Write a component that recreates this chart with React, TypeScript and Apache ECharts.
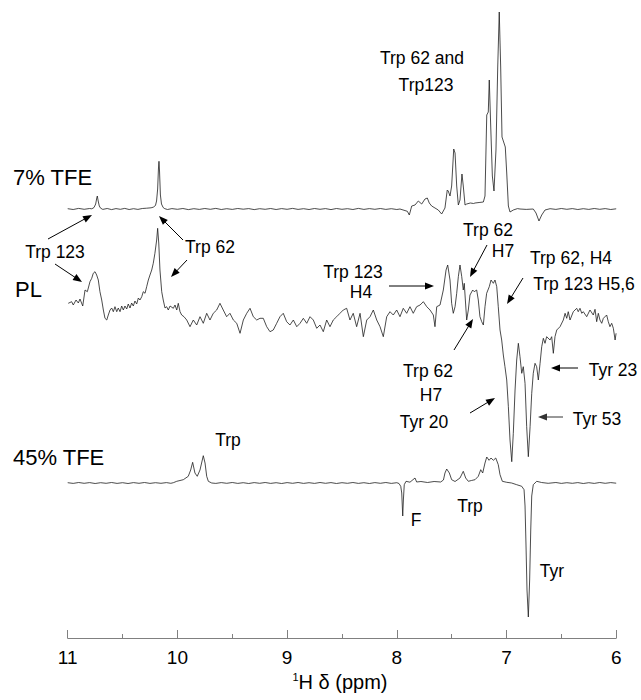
import React, { useEffect, useRef } from 'react';
import * as echarts from 'echarts';

// x axis (ppm) ticks
const xTickValues = [11, 10, 9, 8, 7, 6];

// [ppm, intensity] — 7% TFE trace
const tfe7: number[][] = [
  [11.0, 0.3], [10.95, -0.5], [10.9, 0.6], [10.85, -0.3], [10.8, 0.5], [10.78, 0.2], [10.76, 1.5], [10.745, 5], [10.735, 11], [10.73, 13], [10.722, 8], [10.712, 3], [10.7, 0.8], [10.68, -0.4], [10.64, 0.5], [10.6, -0.6], [10.56, 0.4], [10.52, -0.3], [10.48, 0.6], [10.44, -0.5], [10.4, 0.3], [10.36, -0.4], [10.32, 0.5], [10.28, 0.8], [10.24, 1.2], [10.22, 1.8], [10.2, 3.5], [10.19, 8], [10.18, 20], [10.173, 40], [10.168, 47.7], [10.163, 38], [10.155, 14], [10.145, 5], [10.13, 1.5], [10.115, 0.3], [10.09, -0.5], [10.05, 0.4], [10.0, -0.3], [9.95, 0.5], [9.9, -0.6], [9.85, 0.3], [9.8, -0.4], [9.75, 0.5], [9.7, -0.3], [9.65, 0.6], [9.6, -0.5], [9.55, 0.3], [9.5, -0.4], [9.45, 0.5], [9.4, -0.2], [9.35, 0.4], [9.3, -0.6], [9.25, 0.3], [9.2, -0.3], [9.15, 0.5], [9.1, -0.5], [9.05, 0.4], [9.0, -0.3], [8.95, 0.6], [8.9, -0.4], [8.85, 0.3], [8.8, -0.5], [8.75, 0.5], [8.7, -0.3], [8.65, 0.4], [8.6, -0.6], [8.55, 0.5], [8.5, -0.3], [8.45, 0.3], [8.4, -0.5], [8.35, 0.6], [8.3, -0.4], [8.25, 0.4], [8.2, -0.3], [8.15, 0.5], [8.1, -0.4], [8.05, 0.3], [8.0, -0.5], [7.971, 0], [7.904, -2.3], [7.886, -6], [7.864, 3], [7.834, 4], [7.804, 8], [7.773, 5], [7.743, 10], [7.722, 11], [7.704, 6], [7.682, 3], [7.652, 1], [7.622, -1], [7.591, -5], [7.561, 1], [7.54, 19], [7.531, 18], [7.515, 13], [7.5, 23], [7.481, 60], [7.469, 56], [7.454, 23], [7.439, 4], [7.424, 9], [7.406, 35], [7.394, 23], [7.378, 4], [7.363, 5], [7.33, 6], [7.3, 5.5], [7.287, 6], [7.25, 6.5], [7.211, 7], [7.196, 13], [7.18, 94], [7.166, 97], [7.157, 129], [7.144, 83], [7.129, 33], [7.114, 18], [7.096, 59], [7.08, 142], [7.066, 197], [7.053, 142], [7.041, 72], [7.023, 66], [7.011, 62], [6.998, 36], [6.983, 3], [6.968, -3], [6.938, -1], [6.9, 0.4], [6.877, 0], [6.82, -0.4], [6.756, 0], [6.731, -4], [6.704, -12], [6.679, -6], [6.649, -1], [6.603, 0.3], [6.55, -0.4], [6.5, 0.5], [6.45, -0.3], [6.4, 0.4], [6.35, -0.5], [6.3, 0.3], [6.25, -0.4], [6.2, 0.5], [6.15, -0.3], [6.1, 0.4], [6.05, -0.5], [6.0, 0.2],
];

// [ppm, intensity] — PL trace
const pl: number[][] = [
  [10.995, 16.7], [10.964, 18.3], [10.949, 15], [10.924, 20], [10.903, 17], [10.888, 21], [10.863, 14], [10.842, 30], [10.821, 28.3], [10.797, 38.3], [10.781, 41.7], [10.767, 46.7], [10.751, 48.3], [10.736, 45], [10.721, 40], [10.706, 28.3], [10.69, 20], [10.675, 10], [10.66, 1.7], [10.644, 0], [10.63, 5], [10.614, 10], [10.599, 12], [10.584, 8.3], [10.569, 13.3], [10.553, 8.3], [10.539, 12], [10.523, 8.3], [10.508, 14], [10.493, 10], [10.478, 14], [10.462, 11], [10.448, 16], [10.432, 12], [10.417, 17], [10.402, 14], [10.387, 19], [10.371, 16], [10.356, 22], [10.341, 20], [10.325, 23.3], [10.311, 28.3], [10.295, 26.7], [10.28, 33.3], [10.265, 40], [10.25, 45], [10.234, 50], [10.22, 56.7], [10.205, 66.7], [10.189, 80], [10.18, 91.7], [10.17, 77], [10.159, 50], [10.143, 28.3], [10.129, 20], [10.113, 12], [10.098, 13.3], [10.083, 10], [10.067, 14], [10.037, 11.7], [10.022, 15], [10.006, 10], [9.992, 16.7], [9.976, 8.3], [9.961, 5], [9.94, 3.3], [9.915, 0], [9.885, -6.7], [9.855, 0], [9.824, -5], [9.794, 3.3], [9.764, -3.3], [9.733, 6.7], [9.703, 0], [9.673, 6.7], [9.642, 10], [9.612, 16.7], [9.582, 10], [9.551, 3.3], [9.521, 6.7], [9.49, 0], [9.459, -3.3], [9.429, -13.3], [9.399, 0], [9.368, 6.7], [9.338, 11.7], [9.308, 3.3], [9.277, 0], [9.247, 1.7], [9.217, 1.7], [9.186, -6.7], [9.156, -11.7], [9.126, -10], [9.095, -3.3], [9.065, 3.3], [9.035, 6.7], [9.004, -1.7], [8.974, -5], [8.943, 0], [8.912, -6.7], [8.882, -3.3], [8.852, 1.7], [8.821, -3.3], [8.791, 3.3], [8.761, 0], [8.73, -8.3], [8.7, -5], [8.67, -11.7], [8.639, 0], [8.609, -6.7], [8.579, 0], [8.548, 3.3], [8.518, 6.7], [8.488, 10], [8.457, 11.7], [8.427, 0], [8.397, 6.7], [8.366, -6.7], [8.335, 6.7], [8.305, -16.7], [8.274, 0], [8.244, 3.3], [8.214, 10], [8.183, 0], [8.153, -6.7], [8.123, -16.7], [8.092, 3.3], [8.062, 8.3], [8.032, 5], [8.001, 10], [7.971, 3.3], [7.941, 11.7], [7.91, 6.7], [7.88, 13.3], [7.85, 6.7], [7.819, 13.3], [7.788, 15], [7.758, 18.3], [7.727, 13.3], [7.697, 10], [7.667, 5], [7.652, -6.7], [7.636, 13.3], [7.606, 15], [7.576, 30], [7.551, 50], [7.536, 55], [7.515, 40], [7.5, 16.7], [7.485, 6.7], [7.469, 13.3], [7.454, 26.7], [7.439, 43.3], [7.424, 55], [7.408, 43.3], [7.394, 30], [7.385, 36.7], [7.363, 0], [7.348, 10], [7.333, 25], [7.308, 30], [7.294, 28.3], [7.272, 30], [7.257, 20], [7.242, 3.3], [7.226, -1.7], [7.211, -5], [7.196, 13.3], [7.181, 26.7], [7.157, 33.3], [7.141, 40], [7.12, 36.7], [7.105, 40], [7.089, 33.3], [7.075, 13.3], [7.059, -10], [7.044, -20], [7.029, -35], [7.014, -46.7], [6.998, -60], [6.983, -86.7], [6.968, -120], [6.952, -141.7], [6.938, -113.3], [6.922, -70], [6.907, -40], [6.892, -23.3], [6.877, -36.7], [6.861, -53.3], [6.847, -46.7], [6.831, -63.3], [6.816, -106.7], [6.801, -136.7], [6.785, -106.7], [6.77, -73.3], [6.756, -53.3], [6.74, -43.3], [6.725, -46.7], [6.71, -60], [6.694, -43.3], [6.679, -26.7], [6.664, -18.3], [6.649, -23.3], [6.634, -16.7], [6.603, -20], [6.588, -16.7], [6.573, -33.3], [6.558, -16.7], [6.542, -10], [6.512, -6.7], [6.482, 0], [6.466, 6.7], [6.451, 1.7], [6.437, 8.3], [6.421, 0], [6.391, 8.3], [6.36, 11.7], [6.346, 8.3], [6.33, 11.7], [6.314, 6.7], [6.3, 8.3], [6.269, 3.3], [6.239, 10], [6.209, 5], [6.193, 10.7], [6.178, -1.7], [6.163, 6.7], [6.148, 0], [6.132, -3.3], [6.117, 1.7], [6.087, 5], [6.072, -1.7], [6.057, -6.7], [6.041, -3.3], [6.026, -8.3], [6.01, -20], [6.001, -13.3],
];

// [ppm, intensity] — 45% TFE trace
const tfe45: number[][] = [
  [11.0, 0.3], [10.95, -0.4], [10.9, 0.5], [10.85, -0.3], [10.8, 0.4], [10.75, -0.5], [10.7, 0.3], [10.65, -0.3], [10.6, 0.5], [10.55, -0.4], [10.5, 0.3], [10.45, -0.5], [10.4, 0.4], [10.35, -0.3], [10.3, 0.5], [10.25, -0.4], [10.2, 0.3], [10.15, -0.3], [10.1, 0.4], [10.06, -0.3], [10.037, 0.3], [10.006, 1.7], [9.946, 3.3], [9.901, 6.7], [9.879, 13], [9.861, 20.7], [9.84, 10], [9.819, 6.7], [9.794, 13], [9.764, 27.3], [9.748, 20], [9.733, 6.7], [9.718, 1.7], [9.687, 0], [9.65, -0.4], [9.6, 0.4], [9.55, -0.3], [9.5, 0.5], [9.45, -0.4], [9.4, 0.3], [9.35, -0.5], [9.3, 0.4], [9.25, -0.3], [9.2, 0.5], [9.15, -0.4], [9.1, 0.3], [9.05, -0.5], [9.0, 0.4], [8.95, -0.3], [8.9, 0.5], [8.85, -0.4], [8.8, 0.3], [8.75, -0.4], [8.7, 0.5], [8.65, -0.3], [8.6, 0.4], [8.55, -0.5], [8.5, 0.3], [8.45, -0.3], [8.4, 0.5], [8.35, -0.4], [8.3, 0.3], [8.25, -0.5], [8.2, 0.4], [8.15, -0.3], [8.1, 0.5], [8.05, -0.4], [8.0, 0.3], [7.98, -0.5], [7.964, -3.3], [7.955, -10], [7.946, -33], [7.94, -17], [7.932, -1.7], [7.916, 1.7], [7.88, 0.8], [7.834, 5], [7.819, 1], [7.78, 1.5], [7.72, 0.5], [7.66, 1.5], [7.6, 1], [7.575, 3], [7.561, 10], [7.545, 14], [7.521, 10], [7.5, 3.3], [7.469, 1.5], [7.424, 5], [7.394, 11.7], [7.372, 5], [7.348, 1.7], [7.32, 2.5], [7.287, 3.3], [7.257, 6.7], [7.235, 13.3], [7.217, 10], [7.196, 20], [7.18, 26], [7.159, 22.7], [7.141, 25], [7.12, 22.7], [7.098, 25], [7.075, 18.3], [7.059, 8.3], [7.038, 1.7], [6.998, 0.7], [6.953, 0], [6.907, -1.7], [6.861, -3.3], [6.84, -6.7], [6.831, -23], [6.822, -63], [6.813, -107], [6.801, -134], [6.789, -97], [6.779, -47], [6.77, -13], [6.756, -1.7], [6.725, 1.7], [6.68, 0.5], [6.62, -0.3], [6.55, 0.5], [6.5, -0.4], [6.45, 0.3], [6.4, -0.3], [6.35, 0.4], [6.3, -0.5], [6.25, 0.3], [6.2, -0.4], [6.15, 0.5], [6.1, -0.3], [6.05, 0.4], [6.0, -0.2],
];

const traceNames = ['7% TFE', 'PL', '45% TFE'];

const FONT = '"Liberation Sans", Arial, Helvetica, sans-serif';
const LINE_COLOR = '#1e1e1e';
const AXIS_GRAY = '#808080';

function arrow(x1: number, y1: number, x2: number, y2: number, color = '#000') {
  const dx = x2 - x1;
  const dy = y2 - y1;
  const L = Math.hypot(dx, dy);
  const ux = dx / L;
  const uy = dy / L;
  const hl = 9;
  const hw = 3.5;
  const bx = x2 - ux * hl;
  const by = y2 - uy * hl;
  const px = -uy;
  const py = ux;
  return [
    { type: 'line', silent: true, shape: { x1, y1, x2: bx + ux * 2, y2: by + uy * 2 }, style: { stroke: color, lineWidth: 1 } },
    {
      type: 'polygon',
      silent: true,
      shape: { points: [[x2, y2], [bx + px * hw, by + py * hw], [bx - px * hw, by - py * hw]] },
      style: { fill: color },
    },
  ];
}

function label(text: string, x: number, y: number, size = 17.5, align = 'center') {
  return {
    type: 'text',
    silent: true,
    x,
    y,
    style: { text, fill: '#000', fontSize: size, fontFamily: FONT, align, verticalAlign: 'middle' },
  };
}

export default function App() {
  const ref = useRef<HTMLDivElement>(null);

  useEffect(() => {
    if (!ref.current) return;
    const chart = echarts.init(ref.current, undefined, { renderer: 'svg' });

    const gridLeft = 67.7;
    const gridWidth = 548.5;
    const grids = [
      { left: gridLeft, width: gridWidth, top: 9, height: 220 },
      { left: gridLeft, width: gridWidth, top: 220, height: 250 },
      { left: gridLeft, width: gridWidth, top: 433, height: 205 },
    ];
    const yRanges = [
      [-20, 200],
      [-150, 100],
      [-155, 50],
    ];

    const xAxes = grids.map((_, i) => ({
      gridIndex: i,
      type: 'value',
      min: xTickValues[xTickValues.length - 1],
      max: xTickValues[0],
      interval: 1,
      inverse: true,
      show: i === 2,
      axisLine: { show: true, onZero: false, lineStyle: { color: AXIS_GRAY, width: 1 } },
      axisTick: { show: true, inside: true, length: 8, lineStyle: { color: AXIS_GRAY, width: 1 } },
      minorTick: { show: true, splitNumber: 2, length: 4, lineStyle: { color: AXIS_GRAY, width: 1 } },
      axisLabel: { show: true, fontSize: 19, color: '#000', margin: 10, fontFamily: FONT },
      splitLine: { show: false },
      minorSplitLine: { show: false },
    }));

    const yAxes = yRanges.map((r, i) => ({
      gridIndex: i,
      type: 'value',
      min: r[0],
      max: r[1],
      show: false,
      splitLine: { show: false },
    }));

    const datasets = [tfe7, pl, tfe45];
    const series = datasets.map((d, i) => ({
      name: traceNames[i],
      type: 'line',
      xAxisIndex: i,
      yAxisIndex: i,
      data: d,
      showSymbol: false,
      symbol: 'none',
      silent: true,
      clip: false,
      lineStyle: { color: LINE_COLOR, width: 0.8 },
    }));

    const graphics: any[] = [
      label(traceNames[0], 13, 177, 22, 'left'),
      label(traceNames[1], 15, 289, 22, 'left'),
      label(traceNames[2], 13, 457, 22, 'left'),

      label('Trp 62 and', 422, 58),
      label('Trp123', 426, 85),
      label('Trp 123', 55, 252),
      label('Trp 62', 210, 247),
      label('Trp 62', 488, 230),
      label('H7', 503, 251),
      label('Trp 62, H4', 571, 258),
      label('Trp 123 H5,6', 584, 284),
      label('Trp 123', 353, 272),
      label('H4', 361, 292),
      label('Trp 62', 428, 371),
      label('H7', 431, 395),
      label('Tyr 20', 424, 422),
      label('Tyr 23', 613, 370),
      label('Tyr 53', 597, 419),
      label('Trp', 228, 440),
      label('F', 416, 520),
      label('Trp', 470, 506),
      label('Tyr', 552, 571),

      ...arrow(48, 239, 92, 215),
      ...arrow(55, 264, 82, 282),
      ...arrow(183, 240, 159, 216),
      ...arrow(187, 260, 171, 277),
      ...arrow(389, 286, 434, 286),
      ...arrow(487, 245, 470, 277),
      ...arrow(523, 278, 507, 304),
      ...arrow(454, 350, 473, 319),
      ...arrow(470, 413, 495, 398),
      ...arrow(578, 368, 551, 368),
      ...arrow(563, 417, 538, 417, '#333'),

      {
        type: 'text',
        silent: true,
        x: 340,
        y: 682,
        style: {
          text: '{s|1}{t|H δ (ppm)}',
          fill: '#000',
          fontFamily: FONT,
          align: 'center',
          verticalAlign: 'middle',
          rich: {
            s: { fontSize: 11, fontFamily: FONT, fill: '#000', verticalAlign: 'top', lineHeight: 22 },
            t: { fontSize: 20, fontFamily: FONT, fill: '#000', lineHeight: 22 },
          },
        },
      },
    ];

    chart.setOption({
      animation: false,
      backgroundColor: '#ffffff',
      grid: grids,
      xAxis: xAxes,
      yAxis: yAxes,
      series,
      graphic: graphics,
    });

    return () => {
      chart.dispose();
    };
  }, []);

  return (
    <div
      ref={ref}
      style={{ position: 'absolute', left: 0, top: 0, width: 641, height: 700, background: '#fff' }}
    />
  );
}
